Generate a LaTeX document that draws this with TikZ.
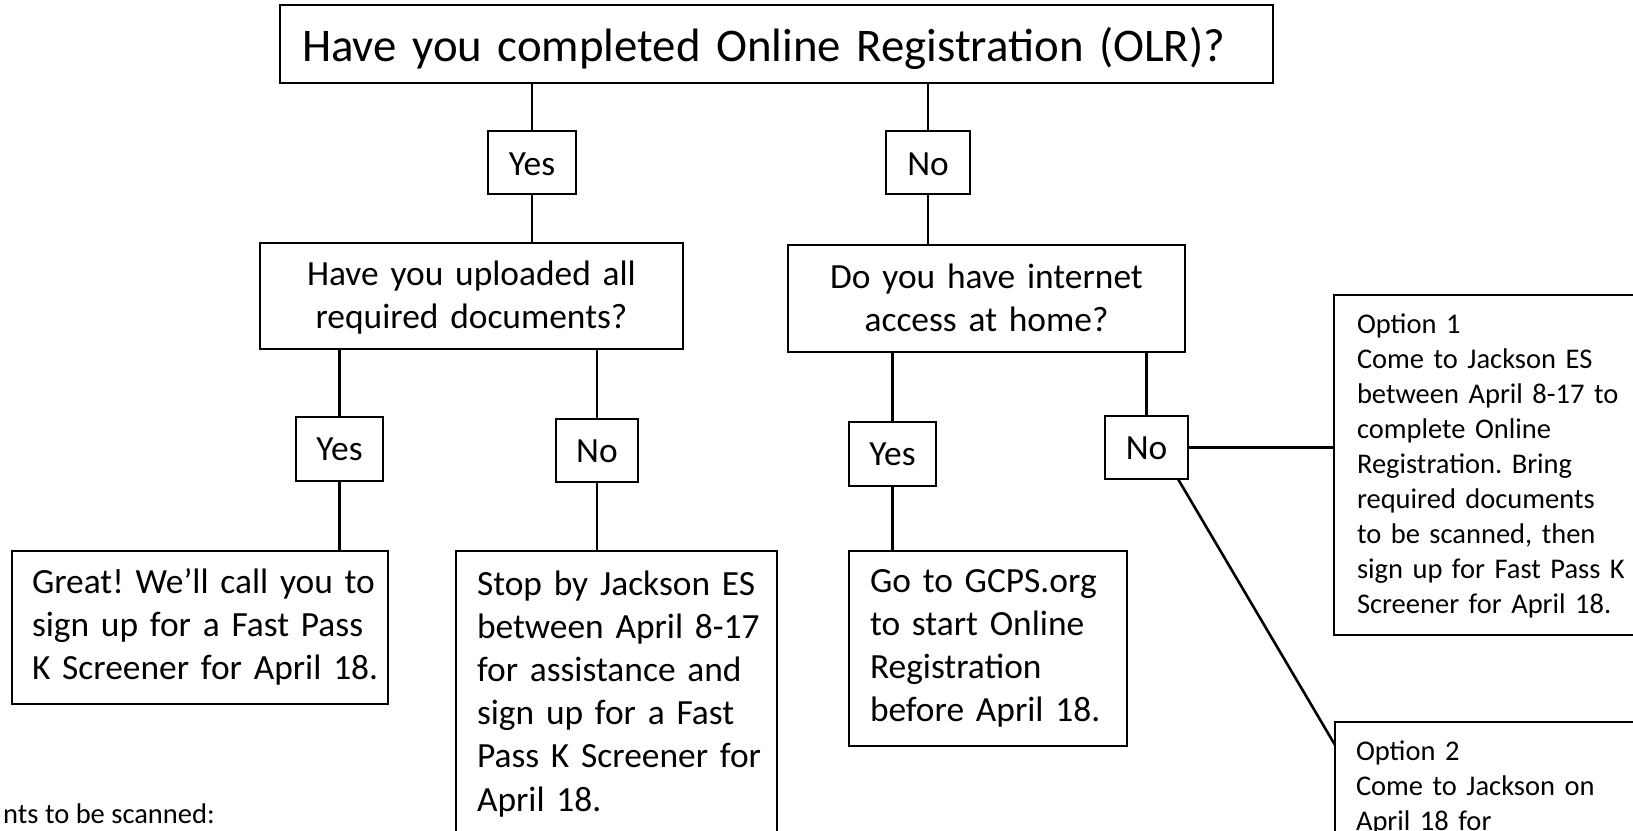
\documentclass[tikz,border=0pt]{standalone}
\usepackage{fontspec}
\setmainfont{Carlito}
\usetikzlibrary{calc}
\newcommand\nbl[1]{\mbox{#1}}
\frenchspacing
\begin{document}
\begin{tikzpicture}[x=1pt,y=-1pt,
  box/.style={draw, line width=2.6pt, outer sep=0pt, inner ysep=0pt, anchor=north west, align=left},
  cbox/.style={box, align=center},
  bigtxt/.style={font=\fontsize{35.4}{43.2}\selectfont},
  smalltxt/.style={font=\fontsize{28.5}{35}\selectfont},
  toptxt/.style={font=\fontsize{46.8}{56}\selectfont},
  link/.style={line width=2.6pt}]
\useasboundingbox (0,0) rectangle (1633,830);
\fill[white] (0,0) rectangle (1633,830);
\clip (0,0) rectangle (1633,830);

% question boxes
\node[box, toptxt, inner xsep=22pt, text width=949pt, text height=56pt, text depth=22pt] (top) at (280,5)
  {\nbl{Have you completed Online Registration (OLR)?}};
\node[cbox, bigtxt, inner xsep=10pt, text width=403pt, text height=42pt, text depth=64pt] (q2) at (260,243)
  {\nbl{Have you uploaded all}\\\nbl{required documents?}};
\node[cbox, bigtxt, inner xsep=10pt, text width=377pt, text height=43pt, text depth=64pt] (q3) at (788,245)
  {\nbl{Do you have internet}\\\nbl{access at home?}};

% yes / no boxes
\node[cbox, bigtxt, inner xsep=0pt, text width=88pt, text height=44pt, text depth=19pt] (yes1) at (488,131) {Yes};
\node[cbox, bigtxt, inner xsep=0pt, text width=84pt, text height=44pt, text depth=19pt] (no1) at (886,131) {No};
\node[cbox, bigtxt, inner xsep=0pt, text width=87pt, text height=43pt, text depth=21pt] (yes2) at (296,417) {Yes};
\node[cbox, bigtxt, inner xsep=0pt, text width=82pt, text height=43pt, text depth=20pt] (no2) at (556,419) {No};
\node[cbox, bigtxt, inner xsep=0pt, text width=87pt, text height=43pt, text depth=21pt] (yes3) at (849,422) {Yes};
\node[cbox, bigtxt, inner xsep=0pt, text width=83pt, text height=43pt, text depth=20pt] (no3) at (1105,416) {No};

% answer boxes
\node[box, bigtxt, inner xsep=20pt, text width=336pt, text height=42pt, text depth=111pt] (great) at (12,551)
  {\nbl{Great! We’ll call you to}\\\nbl{sign up for a Fast Pass}\\\nbl{K Screener for April 18.}};
\node[box, bigtxt, inner xsep=21pt, text width=279pt, text height=44pt, text depth=265pt] (stop) at (456,551)
  {\nbl{Stop by Jackson ES}\\\nbl{between April 8-17}\\\nbl{for assistance and}\\\nbl{sign up for a Fast}\\\nbl{Pass K Screener for}\\\nbl{April 18.}};
\node[box, bigtxt, inner xsep=21pt, text width=236pt, text height=41pt, text depth=154pt] (gcps) at (849,551)
  {\nbl{Go to GCPS.org}\\\nbl{to start Online}\\\nbl{Registration}\\\nbl{before April 18.}};
\node[box, smalltxt, inner xsep=23pt, text width=354pt, text height=38pt, text depth=302pt] (opt1) at (1334,295)
  {Option 1\\Come to Jackson ES\\between April 8-17 to\\complete Online\\Registration. Bring\\required documents\\to be scanned, then\\sign up for Fast Pass K\\Screener for April 18.};
\node[box, smalltxt, inner xsep=21pt, text width=358pt, text height=38pt, text depth=140pt] (opt2) at (1335,722)
  {Option 2\\Come to Jackson on\\April 18 for};

\node[smalltxt, anchor=base west, inner sep=0pt] (docs) at (3,823) {nts to be scanned:};

% connectors
\draw[link] (yes1.north) -- (yes1.north |- top.south);
\draw[link] (yes1.south) -- (yes1.south |- q2.north);
\draw[link] (no1.north) -- (no1.north |- top.south);
\draw[link] (no1.south) -- (no1.south |- q3.north);
\draw[link] (yes2.north) -- (yes2.north |- q2.south);
\draw[link] (yes2.south) -- (yes2.south |- great.north);
\draw[link] (no2.north) -- (no2.north |- q2.south);
\draw[link] (no2.south) -- (no2.south |- stop.north);
\draw[link] (yes3.north) -- (yes3.north |- q3.south);
\draw[link] (yes3.south) -- (yes3.south |- gcps.north);
\draw[link] (no3.north) -- (no3.north |- q3.south);
\draw[link] (no3.east) -- (no3.east -| opt1.west);
\draw[link] ($(no3.south east)+(-10,0)$) -- ($(opt2.north west)+(0,23)$);
\end{tikzpicture}
\end{document}
